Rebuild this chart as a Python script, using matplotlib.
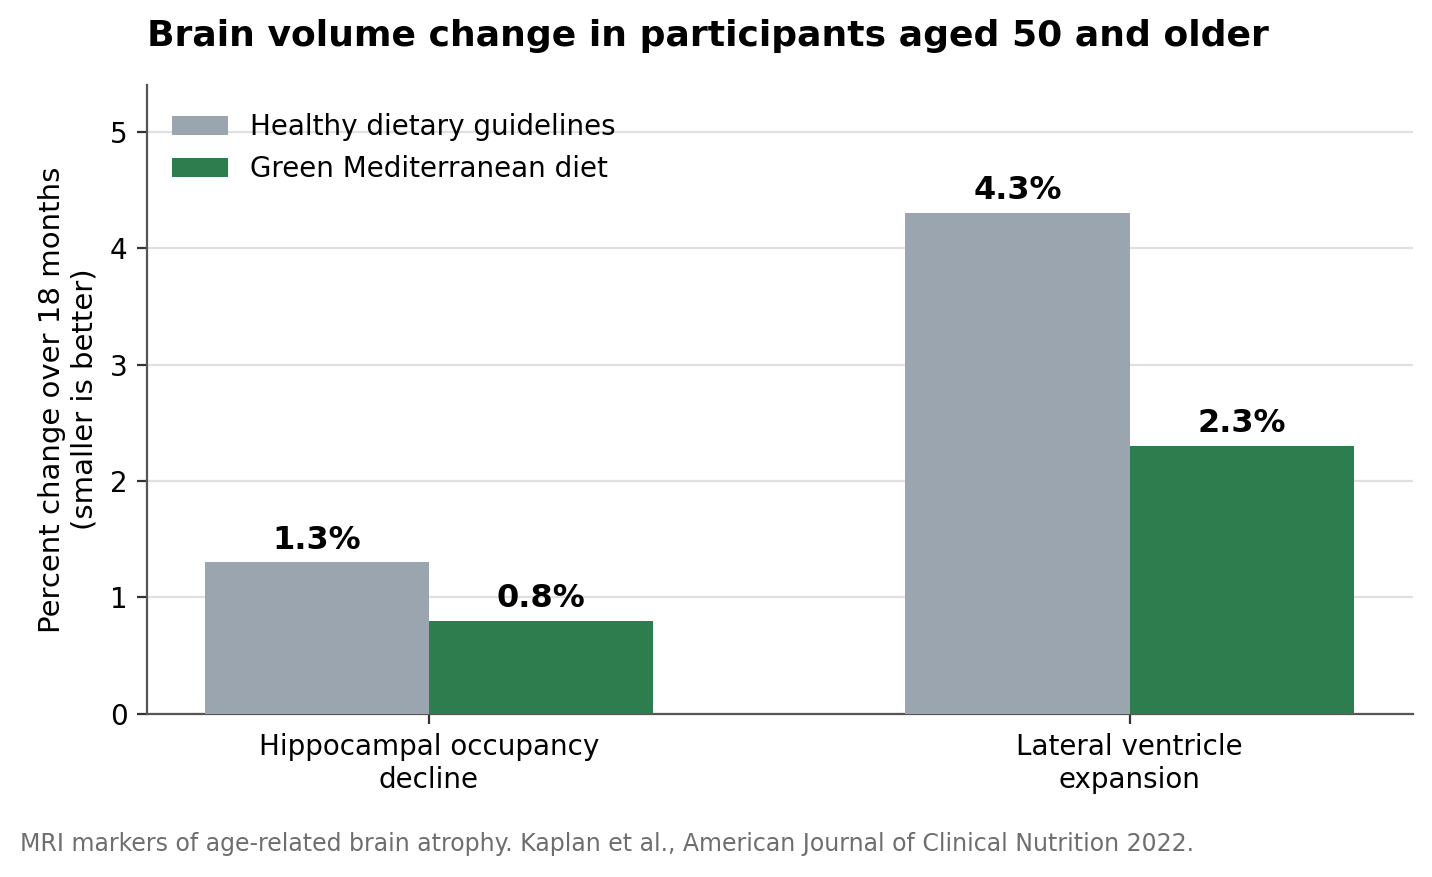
import matplotlib
matplotlib.use("Agg")
import matplotlib.pyplot as plt
import numpy as np

categories = ["Hippocampal occupancy\ndecline", "Lateral ventricle\nexpansion"]
series_names = ["Healthy dietary guidelines", "Green Mediterranean diet"]
healthy = [1.3, 4.3]
green_med = [0.8, 2.3]
colors = ["#9BA5B0", "#2E7D4F"]

plt.rcParams['font.family'] = ['DejaVu Sans']
fig = plt.figure(figsize=(7.16, 4.385), dpi=200)
ax = fig.add_axes([0.1027, 0.186, 0.884, 0.717])

x = np.arange(len(categories))
w = 0.32
for i, (vals, name) in enumerate(zip([healthy, green_med], series_names)):
    pos = x + (i - 0.5) * w
    ax.bar(pos, vals, width=w, color=colors[i], label=name, zorder=3, align='center')
    for p, v in zip(pos, vals):
        ax.text(p, v + 0.06, f"{v:.1f}%", ha='center', va='bottom', fontsize=11.5, fontweight='bold')

ax.set_xlim(-0.402, 1.404)
ax.set_ylim(0, 5.4)
ax.set_yticks([0, 1, 2, 3, 4, 5])
ax.set_xticks(x)
ax.set_xticklabels(categories, fontsize=10)
ax.tick_params(axis='y', labelsize=10, color='#333333')
ax.tick_params(axis='x', color='#333333')
ax.grid(axis='y', color='#E0E0E0', linewidth=0.8, zorder=0)
ax.set_axisbelow(True)
for s in ['top', 'right']:
    ax.spines[s].set_visible(False)
for s in ['left', 'bottom']:
    ax.spines[s].set_color('#555555')
ax.set_ylabel("Percent change over 18 months\n(smaller is better)", fontsize=10.5, labelpad=4)
ax.set_title("Brain volume change in participants aged 50 and older", loc='left',
             fontsize=13, fontweight='bold', pad=14)
ax.legend(loc='upper left', frameon=False, fontsize=10, handlelength=2.0, bbox_to_anchor=(0.0, 0.995))
fig.text(0.014, 0.038, "MRI markers of age-related brain atrophy. Kaplan et al., American Journal of Clinical Nutrition 2022.",
         fontsize=8.5, color='#6E6E6E', ha='left', va='center')
fig.savefig("out.png", dpi=200)
